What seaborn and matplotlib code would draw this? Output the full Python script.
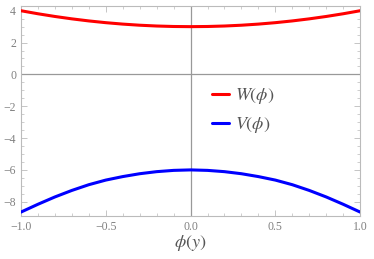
import numpy as np
import pandas as pd
import seaborn as sns
import matplotlib.pyplot as plt
from matplotlib.ticker import MultipleLocator

# values
phi = [-1.0, -0.9, -0.8, -0.7, -0.6, -0.5, -0.4, -0.3, -0.2, -0.1, 0.0,
       0.1, 0.2, 0.3, 0.4, 0.5, 0.6, 0.7, 0.8, 0.9, 1.0]
w_vals = [4.0, 3.81, 3.64, 3.49, 3.36, 3.25, 3.16, 3.09, 3.04, 3.01, 3.0,
          3.01, 3.04, 3.09, 3.16, 3.25, 3.36, 3.49, 3.64, 3.81, 4.0]
v_vals = [-8.65, -8.16, -7.70, -7.29, -6.93, -6.64, -6.42, -6.24, -6.11, -6.03, -6.0,
          -6.03, -6.11, -6.24, -6.42, -6.64, -6.93, -7.29, -7.70, -8.16, -8.65]
series = [r"$W(\phi)$", r"$V(\phi)$"]
colors = ["#ff0000", "#0000ff"]
xticks = [-1.0, -0.5, 0.0, 0.5, 1.0]
yticks = [-8, -6, -4, -2, 0, 2, 4]

sns.set_style("ticks")
plt.rcParams["font.family"] = ["Liberation Serif", "DejaVu Serif"]
plt.rcParams["mathtext.fontset"] = "stix"

df = pd.DataFrame({
    "phi": phi * 2,
    "val": w_vals + v_vals,
    "name": [series[0]] * len(phi) + [series[1]] * len(phi),
})

fig = plt.figure(figsize=(3.74, 2.59), dpi=100)
ax = fig.add_axes([0.056, 0.167, 0.907, 0.810])

# axes through the origin
ax.axhline(0, color="#999999", lw=0.9, zorder=1)
ax.axvline(0, color="#999999", lw=0.9, zorder=1)

sns.lineplot(data=df, x="phi", y="val", hue="name", palette=colors, lw=2.2,
             ax=ax, zorder=3)

ax.set_xlim(-1.0, 1.0)
ax.set_ylim(-8.88, 4.3)
ax.set_xticks(xticks)
ax.set_xticklabels(["\u22121.0", "\u22120.5", "0.0", "0.5", "1.0"])
ax.set_yticks(yticks)
ax.set_yticklabels(["\u22128", "\u22126", "\u22124", "\u22122", "0", "2", "4"])
ax.xaxis.set_minor_locator(MultipleLocator(0.1))
ax.yaxis.set_minor_locator(MultipleLocator(0.5))
ax.tick_params(which="both", direction="in", top=True, right=True,
               color="#bbbbbb", labelcolor="#808080", labelsize=8.5)
ax.tick_params(which="major", length=4, width=0.6)
ax.tick_params(which="minor", length=2, width=0.5)
for s in ax.spines.values():
    s.set_color("#bbbbbb")
    s.set_linewidth(0.8)

ax.set_xlabel(r"$\phi(y)$", fontsize=13, color="#555555", labelpad=0)
ax.set_ylabel("")

leg = ax.legend(loc="center left", bbox_to_anchor=(0.515, 0.5), frameon=False,
                fontsize=13, handlelength=0.95, handletextpad=0.35,
                labelspacing=0.5)
for t in leg.get_texts():
    t.set_color("#555555")

fig.savefig("out.png", dpi=100)
